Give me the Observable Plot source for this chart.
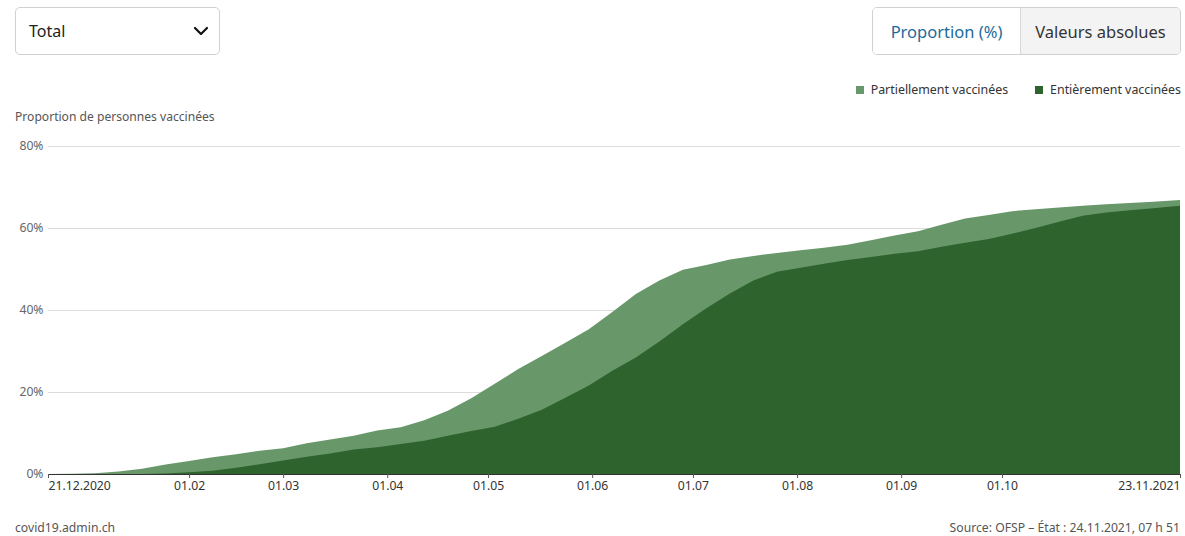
<!DOCTYPE html>
<html>
<head>
<meta charset="utf-8">
<script src="https://cdn.jsdelivr.net/npm/d3@7"></script>
<script src="https://cdn.jsdelivr.net/npm/@observablehq/plot@0.6"></script>
<style>
  html, body { margin: 0; padding: 0; background: #fff; }
  body { width: 1185px; height: 536px; position: relative; overflow: hidden; font-family: "Noto Sans", "Open Sans", sans-serif; color: #333; }
  .select { position: absolute; left: 15px; top: 7px; width: 205px; height: 48px; border: 1px solid #d0d0d0; border-radius: 5px; box-sizing: border-box; }
  .select span { position: absolute; left: 13px; top: 12px; font-size: 16px; color: #222; }
  .select svg { position: absolute; right: 10px; top: 17px; }
  .toggle { position: absolute; left: 872px; top: 7px; width: 309px; height: 48px; border: 1px solid #d0d0d0; border-radius: 5px; box-sizing: border-box; overflow: hidden; display: flex; }
  .toggle div { display: flex; align-items: center; justify-content: center; font-size: 16.5px; }
  .toggle .on { width: 147px; color: #1b6b9b; background: #fff; border-right: 1px solid #d8d8d8; }
  .toggle .off { flex: 1; color: #333; background: #f3f3f3; }
  .legend { position: absolute; right: 4px; top: 81px; font-size: 12.4px; color: #333; display: flex; gap: 27px; }
  .legend .item { display: flex; align-items: center; }
  .legend .sw { width: 8px; height: 8px; margin-right: 7px; }
  .ylabel { position: absolute; left: 15px; top: 108px; font-size: 12.1px; color: #555; }
  #chart { position: absolute; left: 0; top: 130px; }
  .foot { position: absolute; top: 519px; font-size: 12.2px; color: #555; }
</style>
</head>
<body>
<div class="select"><span>Total</span>
  <svg width="16" height="12" viewBox="0 0 16 12"><path d="M2 3 L8 9 L14 3" fill="none" stroke="#111" stroke-width="2.2" stroke-linecap="round" stroke-linejoin="round"/></svg>
</div>
<div class="toggle"><div class="on">Proportion (%)</div><div class="off">Valeurs absolues</div></div>
<div class="legend">
  <div class="item"><div class="sw" style="background:#68986a"></div>Partiellement vaccinées</div>
  <div class="item"><div class="sw" style="background:#2e632e"></div>Entièrement vaccinées</div>
</div>
<div class="ylabel">Proportion de personnes vaccinées</div>
<div id="chart"></div>
<div class="foot" style="left:15px">covid19.admin.ch</div>
<div class="foot" style="right:5px">Source: OFSP – État : 24.11.2021, 07 h 51</div>
<script>
const dates = ["2020-12-21","2020-12-28","2021-01-04","2021-01-11","2021-01-18","2021-01-25","2021-02-01","2021-02-08","2021-02-15","2021-02-22","2021-03-01","2021-03-08","2021-03-15","2021-03-22","2021-03-29","2021-04-05","2021-04-12","2021-04-19","2021-04-26","2021-05-03","2021-05-10","2021-05-17","2021-05-24","2021-05-31","2021-06-07","2021-06-14","2021-06-21","2021-06-28","2021-07-05","2021-07-12","2021-07-19","2021-07-26","2021-08-02","2021-08-09","2021-08-16","2021-08-23","2021-08-30","2021-09-06","2021-09-13","2021-09-20","2021-09-27","2021-10-04","2021-10-11","2021-10-18","2021-10-25","2021-11-01","2021-11-08","2021-11-15","2021-11-23"];
// at least one dose (partially + fully), %
const atLeastOne = [0,0.05,0.2,0.6,1.3,2.3,3.2,4.1,4.8,5.7,6.3,7.5,8.4,9.3,10.6,11.4,13.1,15.4,18.5,22.0,25.6,28.8,32.0,35.3,39.5,43.9,47.2,49.8,51.0,52.3,53.2,53.9,54.6,55.2,55.9,57.0,58.2,59.2,60.8,62.3,63.2,64.1,64.6,65.0,65.4,65.8,66.1,66.4,66.8];
// fully vaccinated, %
const fully = [0,0,0,0,0.02,0.1,0.4,0.8,1.5,2.4,3.3,4.2,5.0,6.0,6.5,7.3,8.1,9.3,10.5,11.5,13.5,15.7,18.6,21.6,25.2,28.4,32.3,36.5,40.4,44.0,47.2,49.3,50.3,51.3,52.2,52.9,53.7,54.3,55.4,56.4,57.3,58.6,60.0,61.5,63.0,63.8,64.3,64.8,65.4];
const yTicks = [0, 20, 40, 60, 80];
const xTicksMid = ["2021-02-01","2021-03-01","2021-04-01","2021-05-01","2021-06-01","2021-07-01","2021-08-01","2021-09-01","2021-10-01"];
const xTickFirst = "2020-12-21";
const xTickLast = "2021-11-23";

const parse = d3.utcParse("%Y-%m-%d");
const data = dates.map((d, i) => ({date: parse(d), total: atLeastOne[i], full: fully[i]}));

const fmtShort = d3.utcFormat("%d.%m");
const fmtLong = d3.utcFormat("%d.%m.%Y");

const chart = Plot.plot({
  width: 1185,
  height: 370,
  marginTop: 16,
  marginBottom: 26,
  marginLeft: 48,
  marginRight: 5,
  style: {fontFamily: "'Noto Sans', 'Open Sans', sans-serif", fontSize: "12.2px", background: "transparent"},
  x: {type: "utc", domain: [parse(xTickFirst), parse(xTickLast)]},
  y: {domain: [0, 80]},
  marks: [
    Plot.gridY(yTicks, {stroke: "#dcdcdc", strokeOpacity: 1}),
    Plot.axisY(yTicks, {tickSize: 0, tickPadding: 5, tickFormat: d => d + "%", fill: "#666", label: null}),
    Plot.areaY(data, {x: "date", y1: 0, y2: "total", fill: "#68986a"}),
    Plot.areaY(data, {x: "date", y1: 0, y2: "full", fill: "#2e632e"}),
    Plot.ruleY([0], {stroke: "#333", strokeWidth: 1}),
    Plot.axisX(xTicksMid.map(parse), {tickSize: 4, tickPadding: 3, tickFormat: fmtShort, fill: "#333", stroke: "#555", label: null}),
    Plot.axisX([parse(xTickFirst)], {tickSize: 4, tickPadding: 3, tickFormat: fmtLong, textAnchor: "start", fill: "#333", stroke: "#555", label: null}),
    Plot.axisX([parse(xTickLast)], {tickSize: 4, tickPadding: 3, tickFormat: fmtLong, textAnchor: "end", fill: "#333", stroke: "#555", label: null})
  ]
});
document.getElementById("chart").appendChild(chart);
</script>
</body>
</html>
